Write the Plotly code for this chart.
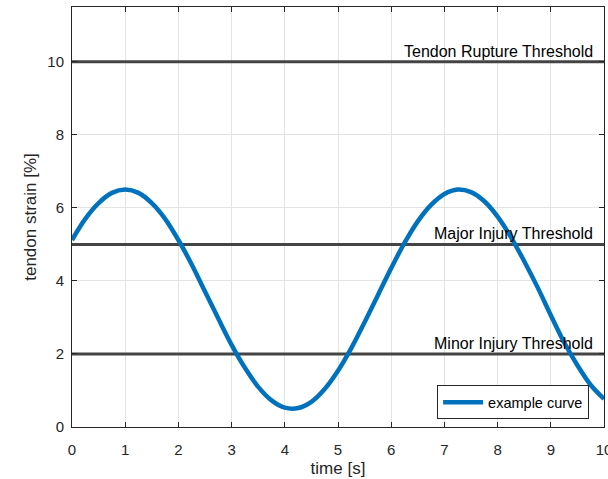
import plotly.graph_objects as go

time_s = [0, 0.25, 0.5, 0.75, 1.0, 1.25, 1.5, 1.75, 2.0, 2.25, 2.5, 2.75, 3.0, 3.25, 3.5, 3.75,
          4.0, 4.25, 4.5, 4.75, 5.0, 5.25, 5.5, 5.75, 6.0, 6.25, 6.5, 6.75, 7.0, 7.25, 7.5, 7.75,
          8.0, 8.25, 8.5, 8.75, 9.0, 9.25, 9.5, 9.75, 10.0]
strain = [5.12, 5.70, 6.13, 6.41, 6.50, 6.41, 6.13, 5.70, 5.12, 4.45, 3.71, 2.97, 2.25, 1.62, 1.10, 0.73,
          0.53, 0.52, 0.69, 1.04, 1.54, 2.16, 2.87, 3.61, 4.35, 5.04, 5.63, 6.08, 6.38, 6.50, 6.43, 6.18,
          5.76, 5.20, 4.54, 3.83, 3.06, 2.32, 1.69, 1.15, 0.77]

threshold_names = ["Tendon Rupture Threshold", "Major Injury Threshold", "Minor Injury Threshold"]
threshold_values = [10, 5, 2]

x_ticks = [0, 1, 2, 3, 4, 5, 6, 7, 8, 9, 10]
y_ticks = [0, 2, 4, 6, 8, 10]

FONT = "Liberation Sans, Arial, sans-serif"
TXT = "#262626"

fig = go.Figure()

for v in threshold_values:
    fig.add_trace(go.Scatter(x=[0, 10], y=[v, v], mode="lines",
                             line=dict(color="#444444", width=3),
                             showlegend=False, hoverinfo="skip"))

fig.add_trace(go.Scatter(x=time_s, y=strain, mode="lines", name="example curve",
                         line=dict(color="#0072BD", width=4.5, shape="spline")))

for name, v in zip(threshold_names, threshold_values):
    fig.add_annotation(x=9.82, y=v, text=name, showarrow=False,
                       xanchor="right", yanchor="bottom", yshift=0, xshift=1,
                       font=dict(family=FONT, size=16, color="#000000"))

axis_common = dict(
    showgrid=True, gridcolor="#e3e3e3", gridwidth=1, automargin=False,
    zeroline=False, showline=True, linecolor=TXT, linewidth=1, mirror="ticks",
    ticks="inside", ticklen=5, tickcolor=TXT, tickwidth=1,
    tickfont=dict(family=FONT, size=15, color=TXT),
)

fig.update_xaxes(range=[0, 10], tickvals=x_ticks, ticklabeloverflow="allow", ticklabelstandoff=9,
                 title=dict(text="time [s]", font=dict(family=FONT, size=17, color=TXT), standoff=5),
                 **axis_common)
fig.update_yaxes(range=[0, 11.5], tickvals=y_ticks, ticklabelstandoff=4,
                 title=dict(text="tendon strain [%]", font=dict(family=FONT, size=17, color=TXT), standoff=6),
                 **axis_common)

fig.update_layout(
    width=608, height=479,
    margin=dict(l=72, r=4, t=7, b=52),
    plot_bgcolor="white", paper_bgcolor="white",
    font=dict(family=FONT, color=TXT),
    legend=dict(x=0.972, y=0.059, xanchor="right", yanchor="middle",
                bgcolor="white", bordercolor=TXT, borderwidth=1,
                font=dict(family=FONT, size=14.5, color="#000000"),
                itemwidth=40, tracegroupgap=0),
    showlegend=True,
)

fig.write_html("out.html")
